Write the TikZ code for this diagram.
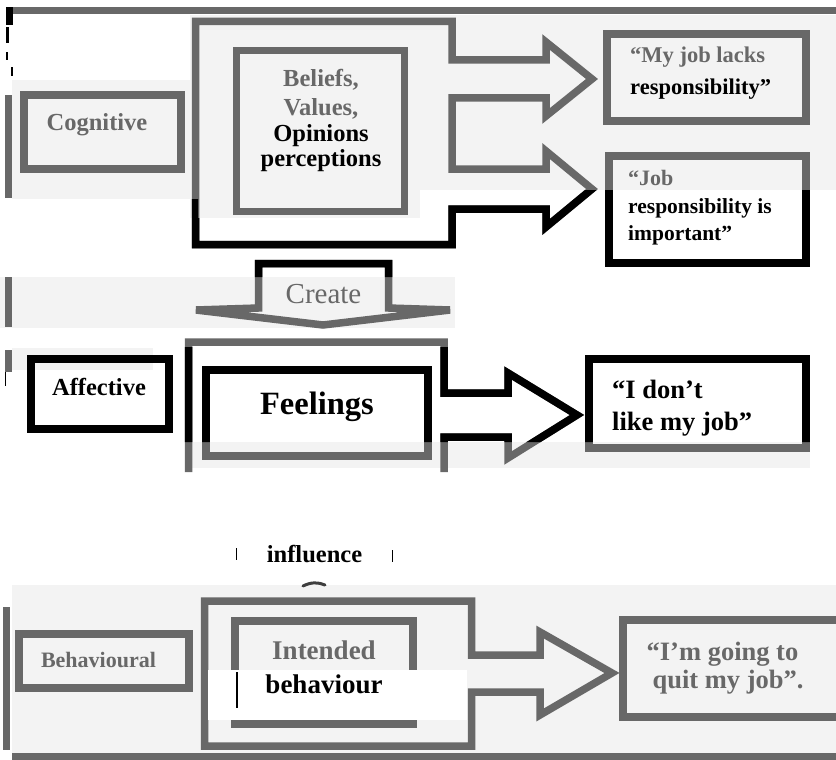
\documentclass[tikz,border=0pt]{standalone}
\usepackage{fontspec}
\setmainfont{Liberation Serif}
\definecolor{ink}{RGB}{104,104,104}
\definecolor{paper}{RGB}{243,243,243}
\tikzset{
  ln/.style={line width=7.5pt, line join=miter},
  lbl/.style={anchor=base, inner sep=0pt},
  lbll/.style={anchor=base west, inner sep=0pt},
  fs/.style={font=\fontsize{#1}{#1}\selectfont\bfseries},
  fr/.style={font=\fontsize{#1}{#1}\selectfont},
}
% all outlines of the scheme, drawn in the colour of the enclosing scope
\newcommand\diagramstrokes{%
  % Cognitive row
  \draw[ln] (24,95) rectangle (181,169);
  \draw[ln] (195.5,21.5) -- (452,21.5) -- (452,60) -- (546,60) -- (546,42)
    -- (592,79) -- (546,116) -- (546,98) -- (452,98) -- (452,169) -- (546,169)
    -- (546,151) -- (592,189) -- (546,227) -- (546,209) -- (452,209)
    -- (452,244.5) -- (195.5,244.5) -- cycle;
  \draw[ln] (236.5,50.5) rectangle (404.5,211.5);
  \draw[ln] (607,34) rectangle (806,121);
  \draw[ln] (609,156) rectangle (806,263);
  % Create arrow
  \draw[ln] (258.5,263.5) -- (388.5,263.5) -- (388.5,308) -- (450,310)
    -- (323,325) -- (196,310) -- (258.5,308) -- cycle;
  % Affective row
  \draw[ln] (31,359) rectangle (169,429);
  \draw[ln] (188.5,472) -- (188.5,342) -- (444,342) -- (444,393) -- (508,393)
    -- (508,373) -- (577,415) -- (508,458) -- (508,437) -- (444,437) -- (444,472);
  \draw[ln] (206,370) rectangle (428,456);
  \draw[ln] (589,359) rectangle (806,448);
  % Behavioural row
  \draw[ln] (19,634) rectangle (189,688);
  \draw[ln] (204.5,601) -- (471.5,601) -- (471.5,655) -- (540,655) -- (540,632)
    -- (612,673) -- (540,715) -- (540,692) -- (471.5,692) -- (471.5,746)
    -- (204.5,746) -- cycle;
  \draw[ln] (235,621) rectangle (413,724);
  \draw[ln] (623,620) rectangle (845,717);
}
\begin{document}
\begin{tikzpicture}[x=1pt,y=-1pt]
\useasboundingbox (0,0) rectangle (836,760);
\clip (0,0) rectangle (836,760);
\fill[white] (0,0) rectangle (836,760);
% paper tone of the printed bands
\fill[paper] (12,80) rectangle (420,199);
\fill[paper] (190,15) rectangle (836,190);
\fill[paper] (190,190) rectangle (420,218);
\fill[paper] (0,277) rectangle (455,328);
\fill[paper] (185,442) rectangle (810,468);
\fill[paper] (12,585) rectangle (836,753);
\fill[paper] (12,348) rectangle (153,370);
% rules along the edges
\fill[ink] (13,7) rectangle (836,14);
\fill[ink] (12,753) rectangle (836,760);
\fill[ink] (5,95) rectangle (12,198);
\fill[ink] (5,277) rectangle (12,327);
\fill[ink] (5,350) rectangle (12,372);
\fill[ink] (3,607) rectangle (10,750);
\fill[black] (6,7) rectangle (13,25);
\fill[black] (6,27) rectangle (9,43);
\fill[black] (6,52) rectangle (8,60);
\fill[black] (11,67) rectangle (13,76);
\draw[black, line width=1.2pt] (5.5,372) -- (5.5,386);

% outlines: grey, then black where the print is dark
\begin{scope}[color=ink]
  \diagramstrokes
\end{scope}
\begin{scope}
  \clip (0,199) -- (198,199) -- (198,218) -- (420,218) -- (420,190) -- (836,190)
    -- (836,345) -- (455,345) -- (455,277) -- (0,277) -- cycle
    (0,347) rectangle (836,442);
  \begin{scope}[color=black]
    \diagramstrokes
  \end{scope}
\end{scope}

% light patches in the lower part
\fill[white] (208,670) rectangle (467,720);
\draw[black, line width=1.2pt] (237,672) -- (237,708);
\draw[black, line width=1.2pt] (236.5,548) -- (236.5,560);
\draw[black, line width=1.2pt] (392.5,550) -- (392.5,562);
\draw[ink!60!black, line width=3pt, line cap=round] (303,586) .. controls (311,582) and (318,582) .. (325,585);

% labels
\node[lbl, fs=24.5, text=ink] (cog) at (97,130.5) {Cognitive};
\node[lbl, fs=24.5, text=ink] (bel1) at (321,87) {Beliefs,};
\node[lbl, fs=24.5, text=ink] (bel2) at (321,115) {Values,};
\node[lbl, fs=24.5] (bel3) at (321,141.5) {Opinions};
\node[lbl, fs=24.5] (bel4) at (321,166.5) {perceptions};
\node[lbll, fs=22.5, text=ink] (lack1) at (630,63) {“My job lacks};
\node[lbll, fs=22.5] (lack2) at (630,95) {responsibility”};
\node[lbll, fs=22, text=ink] (imp1) at (628,185) {“Job};
\node[lbll, fs=21.5] (imp2) at (628,213) {responsibility is};
\node[lbll, fs=21.5] (imp3) at (628,240) {important”};
\node[lbl, fr=29, text=ink] (create) at (323.5,303) {Create};
\node[lbl, fs=24.5] (aff) at (99,395) {Affective};
\node[lbl, fs=32.5] (feel) at (317,414) {Feelings};
\node[lbll, fs=26.5] (like1) at (612,398) {“I don’t};
\node[lbll, fs=26.5] (like2) at (612,430) {like my job”};
\node[lbl, fs=24.5] (infl) at (314.5,562) {influence};
\node[lbl, fs=22, text=ink] (beh) at (98.5,667) {Behavioural};
\node[lbl, fs=27, text=ink] (int1) at (324,659) {Intended};
\node[lbl, fs=27] (int2) at (324,693) {behaviour};
\node[lbl, fs=26.5, text=ink] (quit1) at (722.5,660) {“I’m going to};
\node[lbl, fs=26.5, text=ink] (quit2) at (728,688) {quit my job”.};
\end{tikzpicture}
\end{document}
